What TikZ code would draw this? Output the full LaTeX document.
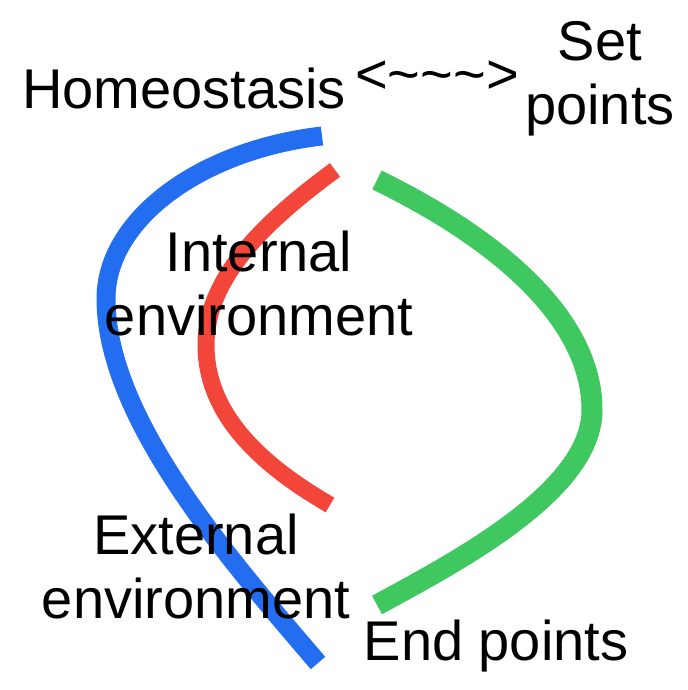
\documentclass[tikz,border=0pt]{standalone}
\usepackage{fontspec}
\setmainfont{Liberation Sans}
\definecolor{bluestroke}{RGB}{35,110,240}
\definecolor{redstroke}{RGB}{242,70,58}
\definecolor{greenstroke}{RGB}{62,200,95}
\begin{document}
\begin{tikzpicture}[x=0.5pt,y=-0.5pt,
  stroke/.style={line width=#1,line cap=butt},
  lbl/.style={inner sep=0pt,align=center,font=\fontsize{28}{32}\selectfont}]
\useasboundingbox (0,0) rectangle (688,690);
% the three strokes
\draw[stroke=9.5pt,bluestroke](322,136) .. controls (200,150) and (105,220) .. (106,300) .. controls (107,420) and (230,560) .. (318,663);
\draw[stroke=8.5pt,redstroke](335,170) .. controls (260,225) and (206,280) .. (206,345) .. controls (206,420) and (270,470) .. (330,505);
\draw[stroke=10.5pt,greenstroke](377,180) .. controls (500,240) and (592,320) .. (592,410) .. controls (592,490) and (460,560) .. (377,605);
% labels
\node[lbl,anchor=base] (homeo) at (184,109) {Homeostasis};
\node[lbl,anchor=base] (arrow) at (437,94) {<\textasciitilde\textasciitilde\textasciitilde>};
\node[lbl,anchor=north] (setpt) at (600,21) {Set\\points};
\node[lbl,anchor=north] (inenv) at (259,231) {Internal\\environment};
\node[lbl,anchor=north] (exenv) at (196,514) {External\\environment};
\node[lbl,anchor=base] (endpt) at (496,660) {End points};
\end{tikzpicture}
\end{document}
